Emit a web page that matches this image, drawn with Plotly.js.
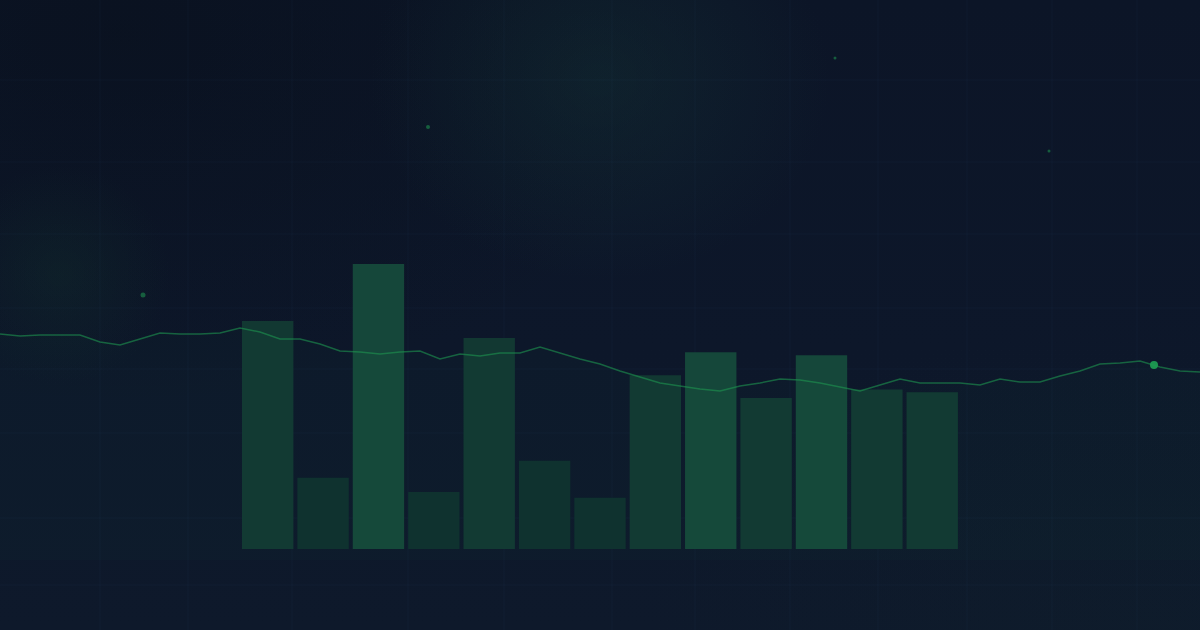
<!DOCTYPE html>
<html>
<head>
<meta charset="utf-8">
<script src="https://cdn.plot.ly/plotly-3.0.1.min.js"></script>
<style>
  html, body { margin: 0; padding: 0; width: 1200px; height: 630px; overflow: hidden; }
  body {
    background:
      radial-gradient(ellipse 230px 200px at 600px 80px, rgba(22,60,58,0.32), rgba(22,60,58,0) 100%),
      radial-gradient(circle 110px at 60px 275px, rgba(20,60,48,0.25), rgba(20,60,48,0) 100%),
      radial-gradient(ellipse 500px 300px at 1150px 620px, rgba(16,36,44,0.25), rgba(16,36,44,0) 100%),
      radial-gradient(ellipse 600px 380px at 120px 30px, rgba(6,12,20,0.35), rgba(6,12,20,0) 100%),
      linear-gradient(180deg, #0c1527 0%, #0d172a 55%, #0e192b 100%);
  }
  #chart { width: 1200px; height: 630px; }
</style>
</head>
<body>
<div id="chart"></div>
<script>
// ---- data ----
const categories = ["W1","W2","W3","W4","W5","W6","W7","W8","W9","W10","W11","W12","W13"];
const barValues  = [80, 25, 100, 20, 74, 31, 18, 61, 69, 53, 68, 56, 55];
const barTier    = [1, 0, 2, 0, 1, 0, 0, 1, 2, 1, 2, 1, 1];

const lineValues = [113,112,112.5,112.5,112.5,109,107.5,110.5,113.5,113,113,113.5,116,114,110.5,110.5,108,104.5,104,103,
                    104,104.5,100.5,103,102,103.5,103.5,106.5,103.5,100.5,98,94.5,91.5,88.5,87,85.5,84.5,87,88.5,90.5,
                    90,88.5,86.5,84.5,87.5,90.5,88.5,88.5,88.5,87.5,90.5,89,89,92,94.5,98,98.5,99.5,96.5,94.5,94];
const lineIndex  = lineValues.map((_, i) => i);

const highlightX = [57.7];
const highlightY = [97.5];

const sparkX = [7.15, 21.4, 41.75, 52.45];
const sparkY = [132.5, 216.5, 251, 204.5];
const sparkSize = [5, 4, 3, 3];

// ---- styles ----
const tierColors = ["#0f2f2e", "#123832", "#15473a"];
const barColors = barTier.map(t => tierColors[t]);

// decorative grid (paper fractions)
const gridXpx = [100, 188, 292, 408, 504, 612, 695, 790, 878, 967, 1052, 1137];
const gridYpx = [80, 162, 234, 308, 369, 433, 518, 585];
const shapes = [];
gridXpx.forEach(x => shapes.push({type:"line", xref:"paper", yref:"paper", x0:x/1200, x1:x/1200, y0:0, y1:1,
  line:{color:"rgba(120,160,200,0.04)", width:1}, layer:"below"}));
gridYpx.forEach(y => shapes.push({type:"line", xref:"paper", yref:"paper", x0:0, x1:1, y0:1-y/630, y1:1-y/630,
  line:{color:"rgba(120,160,200,0.04)", width:1}, layer:"below"}));

const traces = [
  {
    type: "bar", x: categories, y: barValues, xaxis: "x", yaxis: "y",
    marker: { color: barColors, line: { width: 0 } },
    hoverinfo: "skip"
  },
  {
    type: "scatter", mode: "lines", x: lineIndex, y: lineValues, xaxis: "x2", yaxis: "y2",
    line: { color: "rgba(30,150,80,0.6)", width: 1.5 },
    fill: "tozeroy", fillcolor: "rgba(34,197,94,0.02)",
    hoverinfo: "skip"
  },
  {
    type: "scatter", mode: "markers", x: highlightX, y: highlightY, xaxis: "x2", yaxis: "y2",
    marker: { color: "rgba(30,155,82,0.95)", size: 8, line: { width: 0 } },
    hoverinfo: "skip"
  },
  {
    type: "scatter", mode: "markers", x: sparkX, y: sparkY, xaxis: "x2", yaxis: "y2",
    marker: { color: "rgba(30,150,80,0.8)", size: sparkSize, line: { width: 0 } },
    hoverinfo: "skip"
  }
];

const hidden = { visible: false, showgrid: false, zeroline: false, fixedrange: true };

const layout = {
  width: 1200, height: 630,
  margin: { l: 0, r: 0, t: 0, b: 0, pad: 0 },
  paper_bgcolor: "rgba(0,0,0,0)",
  plot_bgcolor: "rgba(0,0,0,0)",
  showlegend: false,
  bargap: 0.072,
  xaxis: Object.assign({}, hidden, { type: "category", range: [-4.834, 16.835] }),
  yaxis: Object.assign({}, hidden, { range: [-28.4, 192.6] }),
  xaxis2: Object.assign({}, hidden, { overlaying: "x", range: [0, 60] }),
  yaxis2: Object.assign({}, hidden, { overlaying: "y", range: [-35, 280] }),
  shapes: shapes
};

Plotly.newPlot("chart", traces, layout, { staticPlot: true, displayModeBar: false });
</script>
</body>
</html>
